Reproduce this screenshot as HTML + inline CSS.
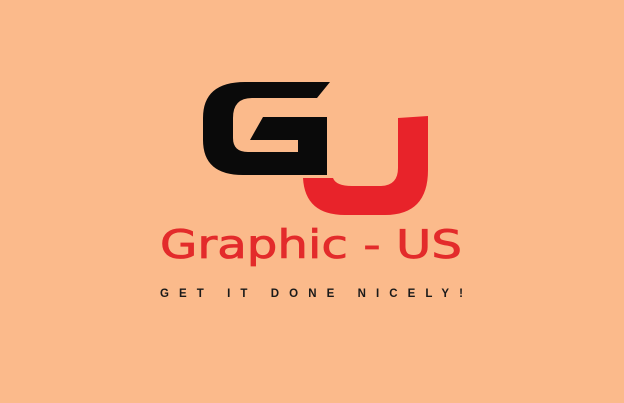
<!DOCTYPE html>
<html><head><meta charset="utf-8"><style>
html,body{margin:0;padding:0;background:#fbba8b;width:624px;height:403px;overflow:hidden}
svg{display:block}
</style></head><body>
<svg width="624" height="403" viewBox="0 0 624 403" xmlns="http://www.w3.org/2000/svg">
<rect x="0" y="0" width="624" height="403" fill="#fbba8b"/>
<g>
<path fill="#0a0a0a" d="M245,82 L330,82 L317,98 L252,98 Q233,98 233,118 L233,138 Q233,152 248,152 L298,152 L298,140 L250,140 L263,117 L327,117 L327,175 L243,175 Q203,175 203,140 L203,118 Q203,82 245,82 Z"/>
<path fill="#e8232a" d="M398,118 L428,116 L428,170 Q428,215 385,215 L345,215 Q305,215 303,178 L333,178 Q336,186 352,186 L380,186 Q398,186 398,168 Z"/>
</g>
<text x="160" y="258" font-family="'DejaVu Sans','Liberation Sans',sans-serif" font-size="39" fill="#e32b2b" stroke="#e32b2b" stroke-width="0.8" textLength="302" lengthAdjust="spacingAndGlyphs">Graphic - US</text>
<text x="160" y="297" font-family="'Liberation Sans',sans-serif" font-size="11.5" font-weight="bold" fill="#1a1a1a" textLength="303" lengthAdjust="spacing">GET IT DONE NICELY!</text>
</svg>
</body></html>
